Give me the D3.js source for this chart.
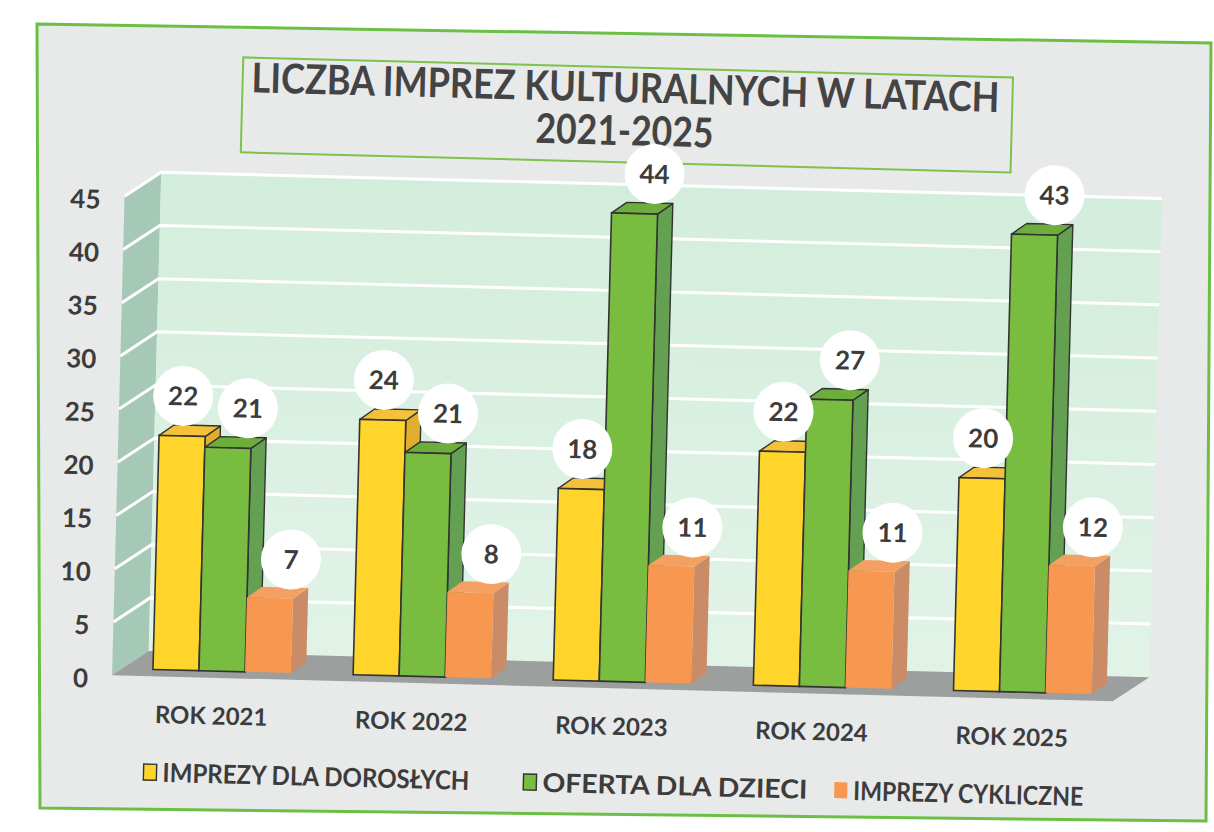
<!DOCTYPE html>
<html>
<head>
<meta charset="utf-8">
<script src="https://cdn.jsdelivr.net/npm/d3@7"></script>
<style>
  html, body { margin: 0; padding: 0; background: #ffffff; }
  svg text { font-family: Lato, 'Open Sans', sans-serif; font-weight: 700; fill: #3c3c3c; }
</style>
</head>
<body>
<div id="wykres"></div>
<script>
// dane
lata = ['ROK 2021', 'ROK 2022', 'ROK 2023', 'ROK 2024', 'ROK 2025']
serie = ['IMPREZY DLA DOROSŁYCH', 'OFERTA DLA DZIECI', 'IMPREZY CYKLICZNE']
dorosli   = [22, 24, 18, 22, 20]
dzieci    = [21, 21, 44, 27, 43]
cykliczne = [7, 8, 11, 11, 12]
podzialka = [0, 5, 10, 15, 20, 25, 30, 35, 40, 45]
tytul = ['LICZBA IMPREZ KULTURALNYCH W LATACH', '2021-2025']

wartosci = [dorosli, dzieci, cykliczne]

// kolory: front, gora, bok
kolory = [
  { front: '#ffd52c', gora: '#f4c23a', bok: '#e2ae2e', obrys: '#333333' },
  { front: '#78bd3f', gora: '#6cad3b', bok: '#64a052', obrys: '#333333' },
  { front: '#f8974f', gora: '#f3a062', bok: '#c98c66', obrys: 'none' }
]
// przesuniecie etykiet (kolko) wzgledem wierzcholka slupka
przesEtykiet = [[0, -40], [19, -40], [20, -39]]

W = 1214, H = 832

svg = d3.select('#wykres').append('svg')
  .attr('width', W)
  .attr('height', H)

// ramka (skan jest lekko krzywy)
svg.append('polygon')
  .attr('points', [[37, 24], [1211, 43], [1206, 821], [40, 808]].map(p => p.join(',')).join(' '))
  .attr('fill', '#e8e9e9')
  .attr('stroke', '#6cbf45')
  .attr('stroke-width', 3)

defs = svg.append('defs')
gr = defs.append('linearGradient').attr('id', 'sciana').attr('x1', 0).attr('y1', 0).attr('x2', 0).attr('y2', 1)
gr.append('stop').attr('offset', '0%').attr('stop-color', '#d3eddc')
gr.append('stop').attr('offset', '100%').attr('stop-color', '#e1f3e7')

// cala tresc obrocona o ok. 1.5 stopnia
g = svg.append('g')
  .attr('transform', 'rotate(1.5, 607, 416)')

// tytul
g.append('rect')
  .attr('x', 234).attr('y', 67)
  .attr('width', 770).attr('height', 95)
  .attr('fill', 'none')
  .attr('stroke', '#7cc24c')
  .attr('stroke-width', 2)

g.selectAll('.tytul')
  .data(tytul)
  .join('text')
  .attr('class', 'tytul')
  .attr('x', 617)
  .attr('y', (d, i) => 87 + i * 43)
  .attr('dy', '0.36em')
  .attr('text-anchor', 'middle')
  .attr('font-size', 41)
  .attr('textLength', (d, i) => i == 0 ? 748 : 178)
  .attr('lengthAdjust', 'spacingAndGlyphs')
  .style('fill', '#444')
  .text(d => d)

// geometria 3D
lewo = 119, prawo = 1120
glebX = 36, glebY = -25          // glebokosc scian
frakcja = 0.27                    // gdzie stoi przod slupka
slupGlebX = 15, slupGlebY = -11   // glebokosc slupka

y = d3.scaleLinear().domain([0, 45]).range([688, 209])
x = d3.scaleBand().domain(lata).range([lewo, prawo]).paddingInner(0.31).paddingOuter(0.155)
xs = d3.scaleBand().domain(d3.range(serie.length)).range([0, x.bandwidth()])

// sciana boczna
g.append('polygon')
  .attr('points', [[lewo, y(0)], [lewo + glebX, y(0) + glebY], [lewo + glebX, y(45) + glebY], [lewo, y(45)]].join(' '))
  .attr('fill', '#a6c8b7')

// sciana tylna
g.append('rect')
  .attr('x', lewo + glebX)
  .attr('y', y(45) + glebY)
  .attr('width', prawo - lewo)
  .attr('height', y(0) - y(45))
  .attr('fill', 'url(#sciana)')

// linie siatki
g.selectAll('.siatka')
  .data(podzialka.filter(d => d > 0))
  .join('path')
  .attr('class', 'siatka')
  .attr('d', d => `M${lewo},${y(d)} L${lewo + glebX},${y(d) + glebY} L${prawo + glebX},${y(d) + glebY}`)
  .attr('fill', 'none')
  .attr('stroke', '#ffffff')
  .attr('stroke-width', 3)

// podloga
g.append('polygon')
  .attr('points', [[lewo, y(0)], [prawo, y(0)], [prawo + glebX, y(0) + glebY], [lewo + glebX, y(0) + glebY]].join(' '))
  .attr('fill', '#9d9e9e')

// slupki
przodX = glebX * frakcja, przodY = glebY * frakcja
slupki = []
lata.forEach((rok, k) => {
  wartosci.forEach((seria, i) => {
    slupki.push({ rok: rok, i: i, v: seria[k] })
  })
})

grupa = g.selectAll('.slupek')
  .data(slupki)
  .join('g')
  .attr('class', 'slupek')

function geo(d) {
  x0 = x(d.rok) + xs(d.i) + przodX
  w = xs.bandwidth()
  yt = y(d.v) + przodY
  yb = y(0) + przodY
  return { x0, w, yt, yb }
}

grupa.append('polygon')
  .attr('points', d => {
    s = geo(d)
    return [[s.x0 + s.w, s.yt], [s.x0 + s.w + slupGlebX, s.yt + slupGlebY], [s.x0 + s.w + slupGlebX, s.yb + slupGlebY], [s.x0 + s.w, s.yb]].join(' ')
  })
  .attr('fill', d => kolory[d.i].bok)
  .attr('stroke', d => kolory[d.i].obrys)
  .attr('stroke-width', 1.4)
  .attr('stroke-linejoin', 'round')

grupa.append('polygon')
  .attr('points', d => {
    s = geo(d)
    return [[s.x0, s.yt], [s.x0 + slupGlebX, s.yt + slupGlebY], [s.x0 + s.w + slupGlebX, s.yt + slupGlebY], [s.x0 + s.w, s.yt]].join(' ')
  })
  .attr('fill', d => kolory[d.i].gora)
  .attr('stroke', d => kolory[d.i].obrys)
  .attr('stroke-width', 1.4)
  .attr('stroke-linejoin', 'round')

grupa.append('rect')
  .attr('x', d => geo(d).x0)
  .attr('y', d => geo(d).yt)
  .attr('width', d => geo(d).w)
  .attr('height', d => geo(d).yb - geo(d).yt)
  .attr('fill', d => kolory[d.i].front)
  .attr('stroke', d => kolory[d.i].obrys)
  .attr('stroke-width', 1.6)

// etykiety danych
etykiety = g.selectAll('.etykieta')
  .data(slupki)
  .join('g')
  .attr('class', 'etykieta')
  .attr('transform', d => {
    s = geo(d)
    return `translate(${s.x0 + s.w / 2 + przesEtykiet[d.i][0]}, ${s.yt + przesEtykiet[d.i][1]})`
  })

etykiety.append('circle')
  .attr('r', 30)
  .attr('fill', '#ffffff')

etykiety.append('text')
  .attr('text-anchor', 'middle')
  .attr('dy', '0.36em')
  .attr('font-size', 26)
  .text(d => d.v)

// os Y
osY = g.append('g')
  .attr('transform', `translate(95, 3)`)
  .call(d3.axisLeft(y).tickValues(podzialka).tickSize(0).tickPadding(0))
osY.select('.domain').remove()
osY.selectAll('text')
  .attr('font-size', 26)
  .attr('dy', '0.36em')
  .style('font-family', null)

// os X
osX = g.append('g')
  .attr('transform', `translate(0, 726)`)
  .call(d3.axisBottom(x).tickSize(0).tickPadding(0))
osX.select('.domain').remove()
osX.selectAll('text')
  .attr('y', 0)
  .attr('dy', '0.36em')
  .attr('font-size', 24)
  .style('font-family', null)

// legenda
legX = [153, 533, 844]
legDl = [307, 265, 230]
leg = g.selectAll('.legenda')
  .data(serie)
  .join('g')
  .attr('class', 'legenda')
  .attr('transform', (d, i) => `translate(${legX[i]}, 784)`)

leg.append('rect')
  .attr('x', 0).attr('y', -8)
  .attr('width', 13).attr('height', 16)
  .attr('fill', (d, i) => kolory[i].front)
  .attr('stroke', (d, i) => kolory[i].obrys)
  .attr('stroke-width', 1.4)

leg.append('text')
  .attr('x', 19)
  .attr('dy', '0.36em')
  .attr('font-size', 26)
  .attr('textLength', (d, i) => legDl[i])
  .attr('lengthAdjust', 'spacingAndGlyphs')
  .text(d => d)
</script>
</body>
</html>
